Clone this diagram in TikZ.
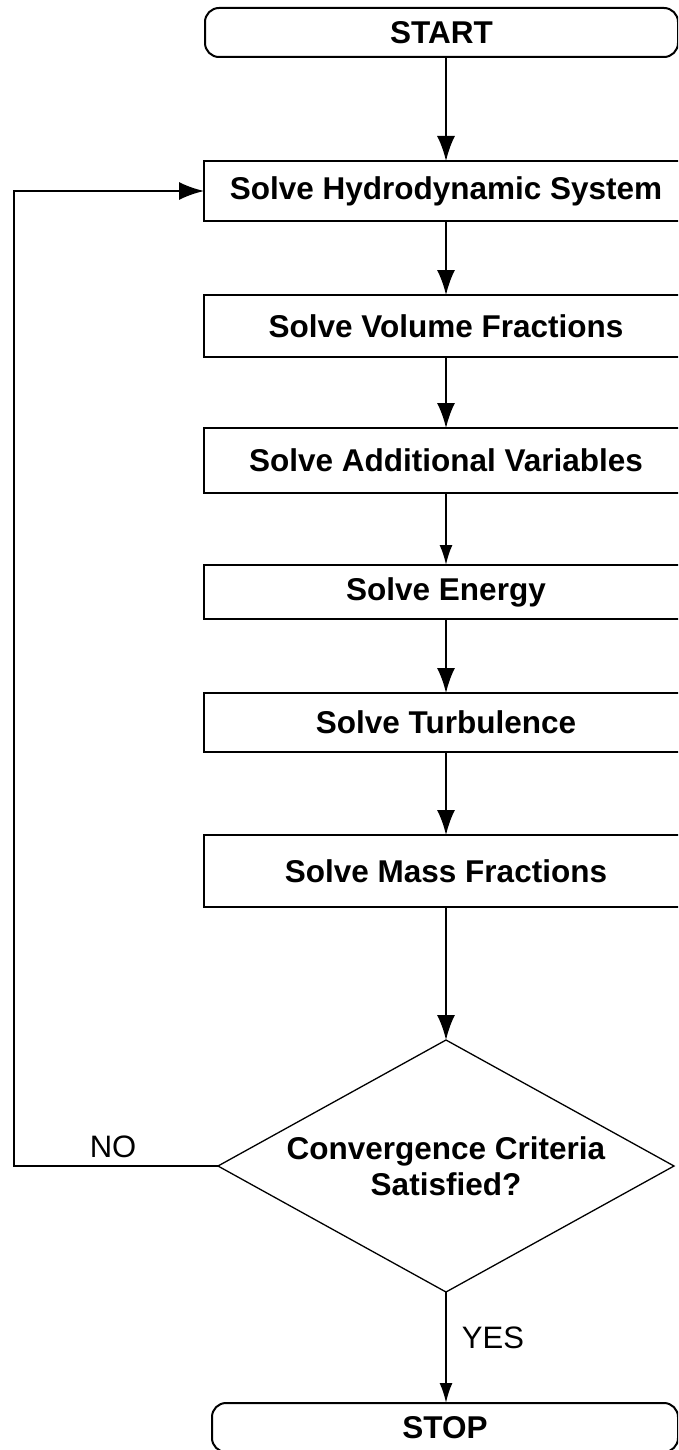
\documentclass[tikz,border=0pt]{standalone}
\usepackage{fontspec}
\setmainfont{Liberation Sans}
\usetikzlibrary{arrows.meta,shapes.geometric}

\begin{document}
\begin{tikzpicture}[x=1pt, y=-1pt, line width=2pt,
    >={Latex[length=25pt,width=18pt]},
    lbl/.style={font=\fontsize{31.5}{36}\selectfont\bfseries},
    procbox/.style={lbl, draw, rectangle, minimum width=484pt, inner sep=0pt, outer sep=0pt},
    termbox/.style={lbl, draw, rectangle, rounded corners=14pt, minimum height=49pt, inner sep=0pt, outer sep=0pt},
    decbox/.style={lbl, draw, diamond, aspect=1.81, line width=1.3pt, minimum width=456pt, minimum height=252pt,
      inner sep=0pt, outer sep=0pt, align=center},
    note/.style={font=\fontsize{31}{36}\selectfont},
    flow/.style={->},
    shortflow/.style={-{Latex[length=20pt,width=13pt]}}]
  \useasboundingbox (0,0) rectangle (678,1450);
  \clip (0,0) rectangle (678,1450);

  % Terminals
  \node[termbox, minimum width=473pt] (start) at (441.5,32.5) {START};
  \node[termbox, minimum width=466pt] (stop) at (445,1427.5) {STOP};

  % Solver steps
  \node[procbox, minimum height=60pt] (hydro) at (446,191) {Solve Hydrodynamic System};
  \node[procbox, minimum height=62pt] (volume) at (446,326) {Solve Volume Fractions};
  \node[procbox, minimum height=65pt] (addvar) at (446,460.5) {Solve Additional Variables};
  \node[procbox, minimum height=54pt] (energy) at (446,592) {Solve Energy};
  \node[procbox, minimum height=59pt] (turb) at (446,722.5) {Solve Turbulence};
  \node[procbox, minimum height=72pt] (mass) at (446,871) {Solve Mass Fractions};

  % Convergence check
  \node[decbox] (check) at (446,1166) {Convergence Criteria\\Satisfied?};
  \coordinate (loop) at (14,1166);

  % Connectors
  \draw[flow] (start.south -| hydro.north) -- (hydro);
  \draw[flow] (hydro) -- (volume);
  \draw[flow] (volume) -- (addvar);
  \draw[shortflow] (addvar) -- (energy);
  \draw[flow] (energy) -- (turb);
  \draw[flow] (turb) -- (mass);
  \draw[flow] (mass) -- (check);
  \draw[shortflow] (check.south) -- (check.south |- stop.north);
  \draw[flow] (check.west) -- (loop) |- (hydro.west);

  % Branch labels
  \node[note] (nolab) at (113,1147) {NO};
  \node[note] (yeslab) at (493,1338) {YES};
\end{tikzpicture}
\end{document}
